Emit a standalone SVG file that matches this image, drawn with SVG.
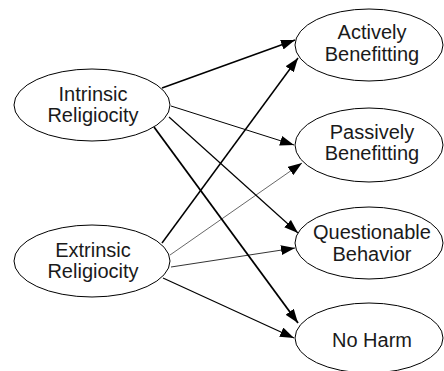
<svg xmlns="http://www.w3.org/2000/svg" width="444" height="371" viewBox="0 0 444 371">
<style>
.n{fill:#fff;stroke:#000;stroke-width:1}
.t{font-family:"Liberation Sans",Arial,sans-serif;font-size:20px;fill:#1a1a1a;text-anchor:middle}
.e{stroke:#000;fill:none}
</style>
<defs>
<marker id="a" markerUnits="userSpaceOnUse" markerWidth="14" markerHeight="10" refX="14" refY="5" orient="auto">
<path d="M0,0 L14,5 L0,10 Z" fill="#000"/>
</marker>
</defs>
<rect width="444" height="371" fill="#fff"/>
<g id="edges">
<line class="e" x1="162" y1="88" x2="295" y2="40" stroke-width="1.5" marker-end="url(#a)"/>
<line class="e" x1="171" y1="106" x2="294" y2="145" stroke-width="1" marker-end="url(#a)"/>
<line class="e" x1="169" y1="117" x2="298" y2="233" stroke-width="1.2" marker-end="url(#a)"/>
<line class="e" x1="154" y1="127" x2="298" y2="323" stroke-width="1.8" marker-end="url(#a)"/>
<line class="e" x1="162" y1="243" x2="298" y2="58" stroke-width="1.5" marker-end="url(#a)"/>
<line class="e" x1="170" y1="255" x2="302" y2="163" stroke-width="0.6" marker-end="url(#a)"/>
<line class="e" x1="171" y1="267" x2="295" y2="248" stroke-width="0.8" marker-end="url(#a)"/>
<line class="e" x1="163" y1="278" x2="294" y2="338" stroke-width="1.2" marker-end="url(#a)"/>
</g>
<g id="intrinsic">
<ellipse class="n" cx="92" cy="105" rx="78" ry="36"/>
<text class="t" x="93" y="101">Intrinsic</text>
<text class="t" x="93" y="122">Religiocity</text>
</g>
<g id="extrinsic">
<ellipse class="n" cx="92" cy="261" rx="78" ry="36"/>
<text class="t" x="93" y="257">Extrinsic</text>
<text class="t" x="93" y="278">Religiocity</text>
</g>
<g id="actively">
<ellipse class="n" cx="369" cy="45" rx="74" ry="36"/>
<text class="t" x="372" y="39">Actively</text>
<text class="t" x="372" y="61">Benefitting</text>
</g>
<g id="passively">
<ellipse class="n" cx="369" cy="145" rx="74" ry="37"/>
<text class="t" x="372" y="139">Passively</text>
<text class="t" x="372" y="160">Benefitting</text>
</g>
<g id="questionable">
<ellipse class="n" cx="369" cy="243" rx="74" ry="36"/>
<text class="t" x="372" y="239">Questionable</text>
<text class="t" x="372" y="261">Behavior</text>
</g>
<g id="noharm">
<ellipse class="n" cx="369" cy="338" rx="74" ry="35"/>
<text class="t" x="372" y="347">No Harm</text>
</g>
</svg>
